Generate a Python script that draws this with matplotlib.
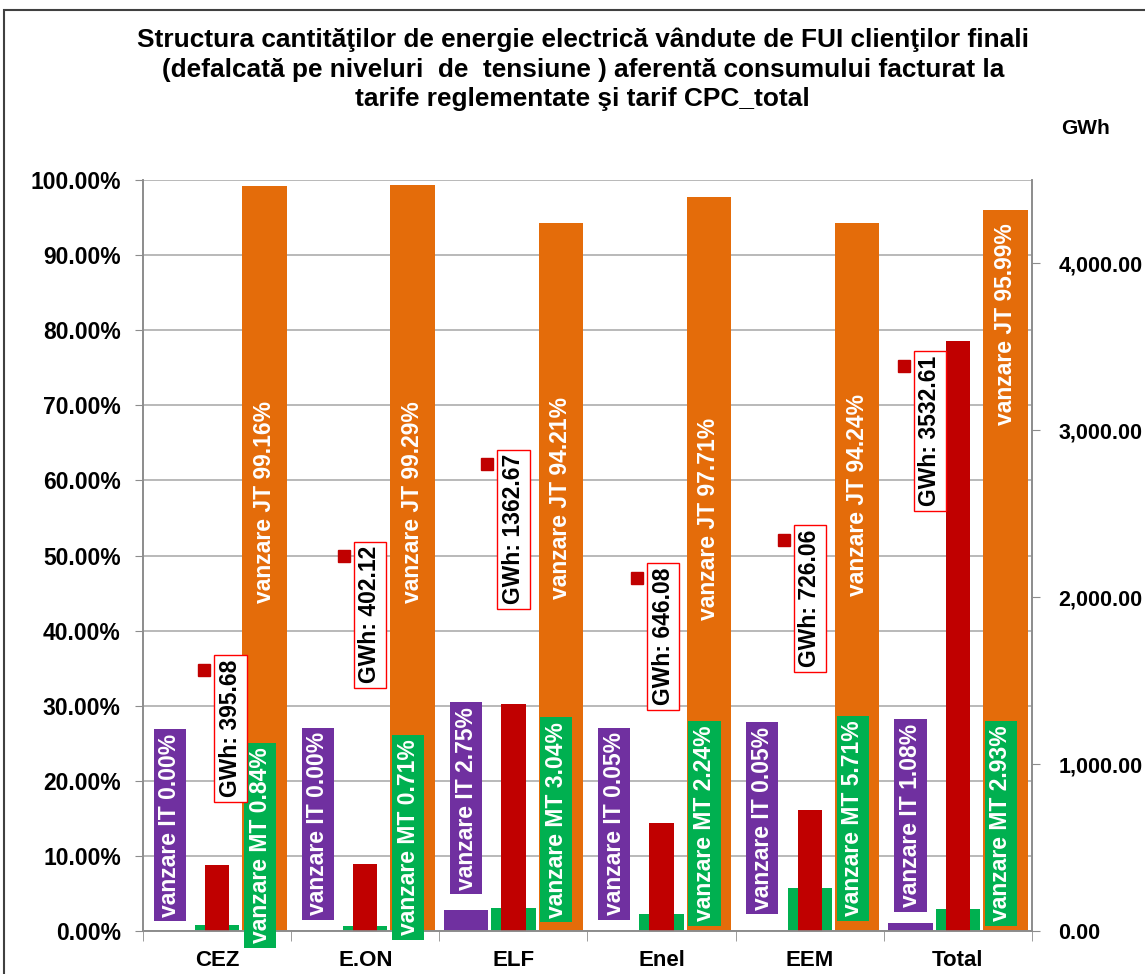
import matplotlib
matplotlib.use("Agg")
import matplotlib.pyplot as plt
import numpy as np
from matplotlib.patches import Rectangle
from matplotlib.ticker import FuncFormatter, MultipleLocator

plt.rcParams['font.family'] = ['Liberation Sans', 'DejaVu Sans']
plt.rcParams['font.weight'] = 'bold'

# date
furnizori = ["CEZ", "E.ON", "ELF", "Enel", "EEM", "Total"]
it_pct = [0.00, 0.00, 2.75, 0.05, 0.05, 1.08]
mt_pct = [0.84, 0.71, 3.04, 2.24, 5.71, 2.93]
jt_pct = [99.16, 99.29, 94.21, 97.71, 94.24, 95.99]
gwh = [395.68, 402.12, 1362.67, 646.08, 726.06, 3532.61]

# pozitia etichetelor (in % pe axa stanga), ca in original
it_lbl_y = [14.1, 14.3, 17.7, 14.3, 15.0, 15.4]
mt_lbl_y = [11.4, 12.5, 14.8, 14.3, 15.0, 14.3]
jt_lbl_y = [57.1, 57.1, 57.7, 54.9, 58.0, 80.8]
gwh_lbl_y = [27.0, 42.1, 53.5, 39.2, 44.3, 66.6]
gwh_lbl_dx = [0.09, 0.03, 0.0, 0.01, 0.0, -0.19]

c_it = "#7030A0"
c_mt = "#00B050"
c_jt = "#E46C0A"
c_gwh = "#C00000"
c_ax = "#8C8C8C"

fig = plt.figure(figsize=(11.45, 9.74), dpi=100)
ax = fig.add_axes([0.1249, 0.0441, 0.7764, 0.7711])
ax2 = ax.twinx()

x = np.arange(len(furnizori))
w = 0.3
off = 0.32
ax.bar(x - off, it_pct, w, color=c_it)
ax.bar(x, mt_pct, w, color=c_mt)
ax.bar(x + off, jt_pct, w, color=c_jt)
ax2.bar(x, gwh, 0.165, color=c_gwh)

fs = 16.5
for i in range(len(furnizori)):
    ax2.text(x[i] - off, it_lbl_y[i], "vanzare IT %.2f%%" % it_pct[i], rotation=90,
             ha='center', va='center', color='white', fontsize=fs, transform=ax.transData,
             bbox=dict(boxstyle='square,pad=0.2', fc=c_it, ec='none'))
    ax2.text(x[i] + 0.29, mt_lbl_y[i], "vanzare MT %.2f%%" % mt_pct[i], rotation=90,
             ha='center', va='center', color='white', fontsize=fs, transform=ax.transData,
             bbox=dict(boxstyle='square,pad=0.2', fc=c_mt, ec='none'))
    ax2.text(x[i] + off, jt_lbl_y[i], "vanzare JT %.2f%%" % jt_pct[i], rotation=90,
             ha='center', va='center', color='white', fontsize=fs, transform=ax.transData)
    lbl = "GWh: %.2f" % gwh[i]
    ax2.text(x[i] + gwh_lbl_dx[i], gwh_lbl_y[i], lbl, rotation=90,
             ha='center', va='center', color='black', fontsize=fs, transform=ax.transData,
             bbox=dict(boxstyle='square,pad=0.2', fc='white', ec='#FF0000', lw=1))
    dy = (len(lbl) * 12.5 / 2 - 10) / 751 * 100
    ax.plot(x[i] + gwh_lbl_dx[i] - 0.176, gwh_lbl_y[i] + dy, 's', color=c_gwh,
            markersize=8.5, clip_on=False)

ax.set_xlim(-0.5, len(furnizori) - 0.5)
ax.set_ylim(0, 100)
ax2.set_ylim(0, 4500)

ax.yaxis.set_major_locator(MultipleLocator(10))
ax.yaxis.set_major_formatter(FuncFormatter(lambda v, p: "%.2f%%" % v))
ax2.yaxis.set_major_locator(MultipleLocator(1000))
ax2.yaxis.set_major_formatter(FuncFormatter(lambda v, p: "{:,.2f}".format(v)))

ax.yaxis.grid(True, color='#A6A6A6', lw=1.1)
ax.set_axisbelow(True)

ax.set_xticks(x)
ax.set_xticklabels(furnizori, fontsize=16)
ax.set_xticks(np.arange(-0.5, len(furnizori)), minor=True)
ax.tick_params(axis='x', which='major', length=0, pad=14)
ax.tick_params(axis='x', which='minor', length=7, color=c_ax)
ax.tick_params(axis='y', direction='out', length=6, color=c_ax, labelsize=16.5, pad=10)
ax2.tick_params(axis='y', direction='out', length=6, color=c_ax, labelsize=15.5, pad=13)

for a in (ax, ax2):
    a.spines['top'].set_visible(False)
    for s in ('left', 'right', 'bottom'):
        a.spines[s].set_color(c_ax)
        a.spines[s].set_linewidth(1.2)

fig.text(0.509, 1 - 28 / 974,
         "Structura cantităţilor de energie electrică vândute de FUI clienţilor finali\n"
         "(defalcată pe niveluri  de  tensiune ) aferentă consumului facturat la\n"
         "tarife reglementate şi tarif CPC_total",
         ha='center', va='top', fontsize=18.9, linespacing=1.27)
fig.text(1085 / 1145, 1 - 128 / 974, "GWh", ha='center', va='center', fontsize=15)

fig.add_artist(Rectangle((4 / 1145, -0.05), 1.2, 1.05 - 10 / 974, transform=fig.transFigure,
                         fill=False, ec='#404040', lw=1.5))

fig.savefig("out.png", dpi=100)
